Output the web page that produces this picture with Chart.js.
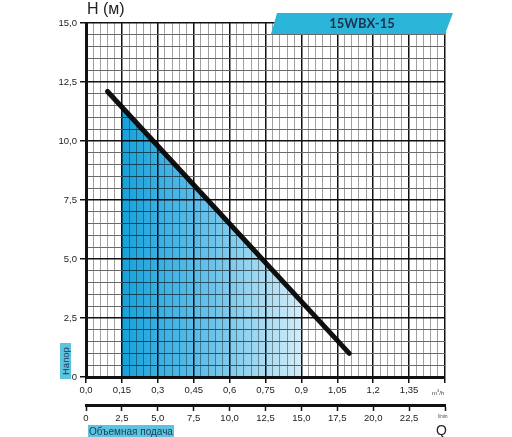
<!DOCTYPE html>
<html><head><meta charset="utf-8">
<script src="https://cdn.jsdelivr.net/npm/chart.js@4/dist/chart.umd.min.js"></script>
<style>
html,body{margin:0;padding:0;background:#fff;}
#wrap{position:relative;width:512px;height:437px;overflow:hidden;font-family:"Liberation Sans",Arial,sans-serif;}
#wrap canvas{position:absolute;left:0;top:0;}
.t{position:absolute;white-space:nowrap;line-height:1;}
</style></head><body>
<div id="wrap">
<canvas id="c" width="512" height="437"></canvas>
<div class="t" style="left:87px;top:1px;font-size:16px;color:#222;">H (м)</div>
<div style="position:absolute;left:271px;top:13px;width:182px;height:21px;background:#2bb5d8;clip-path:polygon(6px 0,182px 0,174px 21px,0 21px);"></div>
<div class="t" style="left:271px;width:182px;top:17px;text-align:center;font-weight:bold;font-size:13px;font-family:Lato,'Liberation Sans',sans-serif;color:#17324d;">15WBX-15</div>
<div style="position:absolute;left:60px;top:343px;width:11px;height:36px;background:#5cc4dc;"></div>
<div class="t" style="left:60px;top:343px;width:11px;height:36px;writing-mode:vertical-rl;transform:rotate(180deg);font-size:9.5px;line-height:11px;text-align:center;color:#1b3b5c;">Напор</div>
<div class="t" style="left:88px;top:425px;width:86px;height:14px;background:#5cc4dc;font-size:10px;line-height:13px;text-align:center;color:#1b3b5c;">Объемная подача</div>
<div class="t" style="left:432px;top:389px;font-size:6px;color:#444;">m<sup style="font-size:4px;">3</sup>/h</div>
<div class="t" style="left:438px;top:415px;font-size:4.5px;color:#444;">l/min</div>
<div class="t" style="left:436px;top:423px;font-size:14px;color:#222;">Q</div>
</div>
<script>
// Flow axis (m3/h) major tick labels, every 0.15
const flowTickLabels = ['0,0','0,15','0,3','0,45','0,6','0,75','0,9','1,05','1,2','1,35',''];
// Secondary flow axis (l/min) tick labels, every 2.5
const lminTickLabels = ['0','2,5','5,0','7,5','10,0','12,5','15,0','17,5','20,0','22,5',''];
// Head axis (m) major tick labels, every 2.5
const headTickLabels = ['0','2,5','5,0','7,5','10,0','12,5','15,0'];
// Pump curve (Q m3/h, H m)
const curveQ = [0.09, 1.10];
const curveH = [12.1, 1.0];
// Working range shaded area
const fillQ = [0.15, 0.9];
const fillH = [11.4, 3.2];

const tickFont = {family:"'Liberation Sans Narrow','Liberation Sans',Arial,sans-serif", size:9.5};

const multiply = {
  id:'multiply',
  beforeDatasetsDraw(chart){ chart.ctx.save(); chart.ctx.globalCompositeOperation='multiply'; },
  afterDatasetsDraw(chart){ chart.ctx.restore(); }
};

new Chart(document.getElementById('c'), {
  type:'scatter',
  data:{
    datasets:[
      {
        data: curveQ.map((q,i)=>({x:q,y:curveH[i]})),
        showLine:true, borderColor:'#111', borderWidth:5, borderCapStyle:'round',
        pointRadius:0, fill:false
      },
      {
        data: fillQ.map((q,i)=>({x:q,y:fillH[i]})),
        showLine:true, borderWidth:0, borderColor:'rgba(0,0,0,0)', pointRadius:0,
        fill:'origin',
        backgroundColor:(c)=>{
          const ch=c.chart; if(!ch.chartArea) return 'rgba(0,0,0,0)';
          const xs=ch.scales.x;
          const g=ch.ctx.createLinearGradient(xs.getPixelForValue(fillQ[0]),0,xs.getPixelForValue(fillQ[1]),0);
          g.addColorStop(0,'#16a2dc');
          g.addColorStop(0.5,'#6ac2ea');
          g.addColorStop(1,'#d3edf8');
          return g;
        }
      }
    ]
  },
  options:{
    responsive:false, animation:false,
    layout:{padding:{left:0,right:67,top:23,bottom:8}},
    plugins:{legend:{display:false},tooltip:{enabled:false}},
    scales:{
      x:{
        type:'linear', position:'bottom', min:0, max:1.5, weight:0,
        afterFit:(s)=>{s.height=28;},
        ticks:{stepSize:0.03, autoSkip:false, maxRotation:0, padding:2, color:'#222', font:tickFont,
          callback:(v,i)=> i%5===0 ? flowTickLabels[i/5] : ''},
        grid:{
          color:(c)=> c.index%5===0 ? '#111' : '#a0a0a0',
          lineWidth:(c)=> c.index%5===0 ? 1.5 : 1,
          tickColor:(c)=> c.index%5===0 ? '#111' : 'rgba(0,0,0,0)',
          tickWidth:1.5, tickLength:6, drawTicks:true
        },
        border:{display:true,color:'#111',width:3}
      },
      x2:{
        type:'linear', position:'bottom', min:0, max:25, weight:1,
        afterFit:(s)=>{s.height=24;},
        ticks:{stepSize:2.5, autoSkip:false, maxRotation:0, padding:2, color:'#222', font:tickFont,
          callback:(v,i)=> lminTickLabels[i]},
        grid:{drawOnChartArea:false, drawTicks:true, tickLength:6, tickColor:'#111', tickWidth:1.5},
        border:{display:true,color:'#111',width:3}
      },
      y:{
        type:'linear', position:'left', min:0, max:15,
        afterFit:(s)=>{s.width=86;},
        ticks:{stepSize:0.5, autoSkip:false, padding:3, color:'#222', font:tickFont,
          callback:(v,i)=> i%5===0 ? headTickLabels[i/5] : ''},
        grid:{
          color:(c)=> c.index%5===0 ? '#111' : '#6a6a6a',
          lineWidth:(c)=> c.index%5===0 ? 1.5 : 1,
          tickColor:(c)=> c.index%5===0 ? '#111' : 'rgba(0,0,0,0)',
          tickWidth:1.5, tickLength:6, drawTicks:true
        },
        border:{display:true,color:'#111',width:3}
      }
    }
  },
  plugins:[multiply]
});
</script>
</body></html>
